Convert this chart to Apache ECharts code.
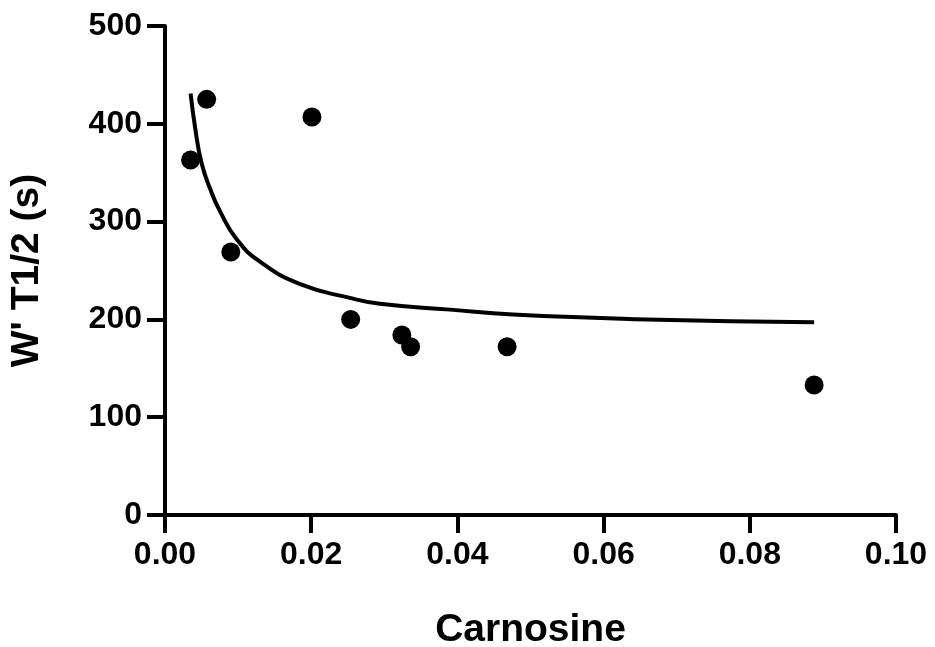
<!DOCTYPE html>
<html>
<head>
<meta charset="utf-8">
<script src="https://cdn.jsdelivr.net/npm/echarts@6/dist/echarts.min.js"></script>
<style>
html,body{margin:0;padding:0;background:#fff;}
#chart{width:935px;height:647px;}
</style>
</head>
<body>
<div id="chart"></div>
<script>
// Observed data points (Carnosine, W' T1/2 in s)
const carnosine = [0.0035, 0.0057, 0.0090, 0.0201, 0.0254, 0.0324, 0.0336, 0.0468, 0.0888];
const wT12 = [363, 425, 269, 407, 200, 184, 172, 172, 133];
// Fitted curve
const curveX = [0.0035, 0.0042, 0.0050, 0.0062, 0.0075, 0.0098, 0.0130, 0.0185, 0.0253, 0.0294, 0.0390, 0.0476, 0.0659, 0.0888];
const curveY = [431, 392, 360, 333, 311, 282, 259, 236, 222, 216, 210, 205, 200, 197];
// Axis ticks
const xTicks = ["0.00", "0.02", "0.04", "0.06", "0.08", "0.10"];
const yTicks = ["0", "100", "200", "300", "400", "500"];

const font = "'Liberation Sans', Arial, sans-serif";
const chart = echarts.init(document.getElementById('chart'));
chart.setOption({
  animation: false,
  backgroundColor: '#fff',
  grid: { left: 165, right: 39, top: 26, bottom: 132, containLabel: false, outerBoundsMode: 'none' },
  xAxis: {
    type: 'value', min: 0, max: 0.1, interval: 0.02,
    name: 'Carnosine', nameLocation: 'middle', nameGap: 96,
    nameTextStyle: { fontFamily: font, fontWeight: 'bold', fontSize: 39, color: '#000' },
    axisLine: { show: true, onZero: false, lineStyle: { color: '#000', width: 4 } },
    axisTick: { show: true, inside: false, length: 18, lineStyle: { color: '#000', width: 4 } },
    axisLabel: { fontFamily: font, fontWeight: 'bold', fontSize: 32, color: '#000', margin: 24,
      formatter: (v) => xTicks[Math.round(v / 0.02)] },
    splitLine: { show: false }
  },
  yAxis: {
    type: 'value', min: 0, max: 500, interval: 100,
    name: "W' T1/2 (s)", nameLocation: 'middle', nameGap: 118, nameRotate: 90,
    nameTextStyle: { fontFamily: font, fontWeight: 'bold', fontSize: 39, color: '#000' },
    axisLine: { show: true, lineStyle: { color: '#000', width: 4 } },
    axisTick: { show: true, inside: false, length: 18, lineStyle: { color: '#000', width: 4 } },
    axisLabel: { fontFamily: font, fontWeight: 'bold', fontSize: 32, color: '#000', margin: 23,
      formatter: (v) => yTicks[Math.round(v / 100)] },
    splitLine: { show: false }
  },
  series: [
    {
      type: 'line', data: curveX.map((x, i) => [x, curveY[i]]),
      smooth: 0.5, showSymbol: false, symbol: 'none',
      lineStyle: { color: '#000', width: 4 }, z: 2
    },
    {
      type: 'scatter', data: carnosine.map((x, i) => [x, wT12[i]]),
      symbol: 'circle', symbolSize: 19, itemStyle: { color: '#000', opacity: 1 }, z: 3
    }
  ]
});
</script>
</body>
</html>
